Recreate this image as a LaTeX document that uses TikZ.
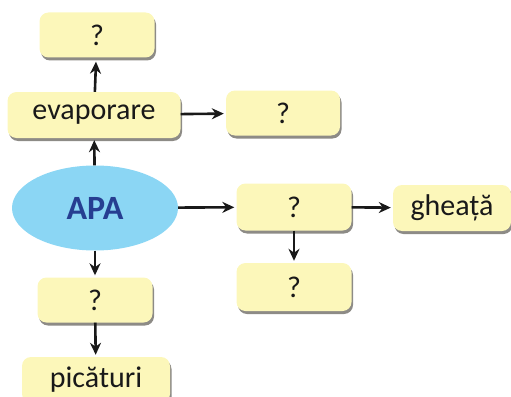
\documentclass[tikz,border=0pt]{standalone}
\usepackage{fontspec}
\setmainfont{Carlito}
\usetikzlibrary{arrows.meta,shapes.geometric,shadows}
\definecolor{boxfill}{RGB}{252,247,186}
\definecolor{apafill}{RGB}{139,214,244}
\definecolor{apatext}{RGB}{38,62,145}
\definecolor{txt}{RGB}{25,25,25}
\tikzset{
	qbox/.style={rectangle, rounded corners=9pt, fill=boxfill, text=txt,
		minimum width=115pt, minimum height=45pt, inner sep=0pt,
		font=\fontsize{30}{36}\selectfont,
		drop shadow={shadow xshift=1.5pt, shadow yshift=-3pt, fill=black!65!yellow!40!black, opacity=.6}},
	sageata/.style={-{Stealth[length=12pt,width=11pt]}, line width=2.6pt, draw=black!90, shorten >=2pt}
}
\begin{document}
\begin{tikzpicture}[x=1pt,y=-1pt]
		\useasboundingbox (0,0) rectangle (511,396);
		\node[ellipse, fill=apafill, minimum width=166pt, minimum height=85pt, inner sep=0pt,
			text=apatext, font=\fontsize{34}{40}\selectfont\bfseries] (apa) at (95,208) {APA};
		\node[qbox, minimum width=173pt, minimum height=46pt] (evap) at (94,115) {evaporare};
		\node[qbox] (sus) at (97,35) {?};
		\node[qbox, minimum width=114pt] (dreapta) at (283,113) {?};
		\node[qbox, minimum height=47pt] (mijloc) at (294,207) {?};
		\node[qbox, minimum width=118pt, minimum height=46pt] (gheata) at (452,208) {gheață};
		\node[qbox, minimum height=48pt] (jos) at (294,287) {?};
		\node[qbox] (stanga) at (95,300) {?};
		\node[qbox, minimum width=148pt, minimum height=46pt] (picaturi) at (96,380) {picături};
		% sagetile
		\draw[sageata] (apa) -- (evap);
		\draw[sageata, shorten >=4pt] (evap) -- (sus);
		\draw[sageata] (evap) -- (dreapta);
		\draw[sageata] (apa) -- (mijloc);
		\draw[sageata] (mijloc) -- (gheata);
		\draw[sageata] (mijloc) -- (jos);
		\draw[sageata] (apa) -- (stanga);
		\draw[sageata] (stanga) -- (picaturi);
	\end{tikzpicture}
\end{document}
